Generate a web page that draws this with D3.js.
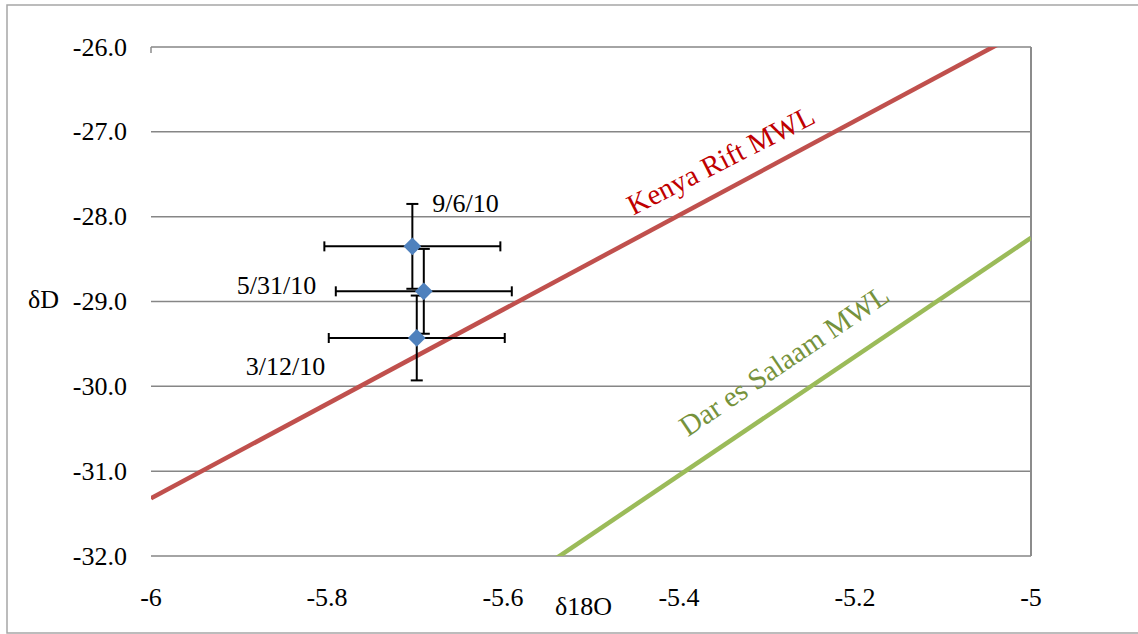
<!DOCTYPE html>
<html>
<head>
<meta charset="utf-8">
<script src="https://cdn.jsdelivr.net/npm/d3@7"></script>
<style>
  body { margin: 0; background: #fff; }
</style>
</head>
<body>
<script>
// data
const samples = ["9/6/10", "5/31/10", "3/12/10"];
const d18O = [-5.703, -5.690, -5.698];
const dD = [-28.35, -28.88, -29.43];
const errX = [0.1, 0.1, 0.1];
const errY = [0.5, 0.5, 0.5];

const mwlNames = ["Kenya Rift MWL", "Dar es Salaam MWL"];
const mwlSlope = [5.56, 7.0];
const mwlIntercept = [2.04, 6.75];

const xTicks = [-6, -5.8, -5.6, -5.4, -5.2, -5];
const xTickLabels = ["-6", "-5.8", "-5.6", "-5.4", "-5.2", "-5"];
const yTicks = [-32, -31, -30, -29, -28, -27, -26];
const yTickLabels = ["-32.0", "-31.0", "-30.0", "-29.0", "-28.0", "-27.0", "-26.0"];

const W = 1138, H = 634;
const margin = { top: 47, right: 107, bottom: 78, left: 151 },
    width = W - margin.left - margin.right,
    height = H - margin.top - margin.bottom;

const svg = d3.select("body").append("svg")
    .attr("width", W)
    .attr("height", H)
    .attr("font-family", "'Liberation Serif', 'Times New Roman', 'DejaVu Serif', serif");

// outer frame
svg.append("rect")
    .attr("x", 7).attr("y", 5)
    .attr("width", W - 6).attr("height", 628)
    .attr("fill", "none")
    .attr("stroke", "#a6a6a6")
    .attr("stroke-width", 1.5);

const g = svg.append("g")
    .attr("transform", "translate(" + margin.left + "," + margin.top + ")");

const x = d3.scaleLinear().domain([-6, -5]).range([0, width]);
const y = d3.scaleLinear().domain([-32, -26]).range([height, 0]);

// gridlines
g.selectAll(".grid").data(yTicks).enter().append("line")
    .attr("x1", 0).attr("x2", width)
    .attr("y1", d => y(d)).attr("y2", d => y(d))
    .attr("stroke", "#868686").attr("stroke-width", 1.5);

// right vertical axis line and small tick at top-left
g.append("line")
    .attr("x1", x(-5)).attr("x2", x(-5))
    .attr("y1", y(-26)).attr("y2", y(-32))
    .attr("stroke", "#8c8c8c").attr("stroke-width", 2);
g.append("line")
    .attr("x1", x(-6)).attr("x2", x(-6))
    .attr("y1", y(-26)).attr("y2", y(-26) + 6)
    .attr("stroke", "#8c8c8c").attr("stroke-width", 1.5);

// tick labels
g.selectAll(".ylab").data(yTicks).enter().append("text")
    .attr("x", -24).attr("y", d => y(d))
    .attr("dy", "0.33em")
    .attr("text-anchor", "end")
    .attr("font-size", 26)
    .text((d, i) => yTickLabels[i]);

g.selectAll(".xlab").data(xTicks).enter().append("text")
    .attr("x", d => x(d)).attr("y", height + 50)
    .attr("text-anchor", "middle")
    .attr("font-size", 26)
    .text((d, i) => xTickLabels[i]);

// axis titles
svg.append("text")
    .attr("x", 28).attr("y", 308)
    .attr("font-size", 26)
    .text("δD");
svg.append("text")
    .attr("x", 555).attr("y", 615)
    .attr("font-size", 26)
    .text("δ18O");

// MWL lines, clipped to plot area
svg.append("defs").append("clipPath").attr("id", "plotclip")
    .append("rect").attr("width", width).attr("height", height);

const mwlColor = ["#c0504d", "#9bbb59"];
const mwlTextColor = ["#c00000", "#76923c"];
const lineGen = d3.line().x(d => x(d[0])).y(d => y(d[1]));

mwlSlope.forEach((m, i) => {
    const b = mwlIntercept[i];
    g.append("path")
        .datum([[-6, m * -6 + b], [-5, m * -5 + b]])
        .attr("clip-path", "url(#plotclip)")
        .attr("fill", "none")
        .attr("stroke", mwlColor[i])
        .attr("stroke-width", 4.5)
        .attr("d", lineGen);
});

// line labels
const labelPos = [[-5.452, -27.99, -27], [-5.39, -30.6, -34]];
labelPos.forEach((p, i) => {
    g.append("text")
        .attr("transform", "translate(" + x(p[0]) + "," + y(p[1]) + ") rotate(" + p[2] + ")")
        .attr("font-size", 29)
        .attr("fill", mwlTextColor[i])
        .text(mwlNames[i]);
});

// error bars
const pts = samples.map((s, i) => ({ s, x: d18O[i], y: dD[i], ex: errX[i], ey: errY[i] }));
const eb = g.append("g").attr("stroke", "#000").attr("stroke-width", 2);
pts.forEach(p => {
    eb.append("line")
        .attr("x1", x(p.x - p.ex)).attr("x2", x(p.x + p.ex))
        .attr("y1", y(p.y)).attr("y2", y(p.y));
    eb.append("line")
        .attr("x1", x(p.x)).attr("x2", x(p.x))
        .attr("y1", y(p.y - p.ey)).attr("y2", y(p.y + p.ey));
    [p.x - p.ex, p.x + p.ex].forEach(v => {
        eb.append("line")
            .attr("x1", x(v)).attr("x2", x(v))
            .attr("y1", y(p.y) - 5).attr("y2", y(p.y) + 5);
    });
    [p.y - p.ey, p.y + p.ey].forEach(v => {
        eb.append("line")
            .attr("x1", x(p.x) - 6).attr("x2", x(p.x) + 6)
            .attr("y1", y(v)).attr("y2", y(v));
    });
});

// diamonds
g.selectAll(".pt").data(pts).enter().append("path")
    .attr("transform", d => "translate(" + x(d.x) + "," + y(d.y) + ")")
    .attr("d", d3.symbol().type(d3.symbolDiamond2).size(200))
    .attr("fill", "#4f81bd");

// point labels
const ptLabelOffset = [[20, -34], [-187, 3], [-171, 37]];
g.selectAll(".ptlab").data(pts).enter().append("text")
    .attr("x", (d, i) => x(d.x) + ptLabelOffset[i][0])
    .attr("y", (d, i) => y(d.y) + ptLabelOffset[i][1])
    .attr("font-size", 26)
    .text(d => d.s);
</script>
</body>
</html>
